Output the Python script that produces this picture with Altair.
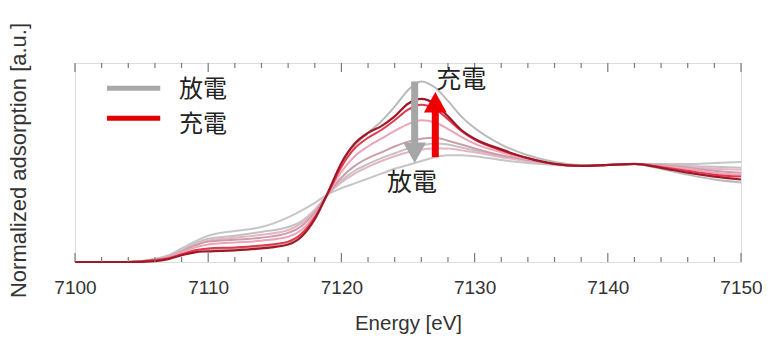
import altair as alt
import pandas as pd

# Energy grid [eV]
energy = [7100, 7104, 7106, 7107, 7108, 7109, 7110, 7112, 7114, 7116, 7117, 7118, 7119,
          7120, 7121, 7122, 7123, 7124, 7125, 7126, 7127, 7128, 7129, 7130, 7132, 7134,
          7136, 7138, 7140, 7142, 7144, 7146, 7148, 7150]

# Normalized absorption curves
g3 = [0.00, 0.00, 0.03, 0.07, 0.14, 0.21, 0.27, 0.32, 0.36, 0.46, 0.53, 0.61, 0.70,
      0.76, 0.81, 0.86, 0.91, 0.96, 1.00, 1.04, 1.08, 1.10, 1.10, 1.09, 1.05, 1.02,
      1.00, 0.99, 1.00, 1.01, 1.01, 1.01, 1.02, 1.03]
g2 = [0.00, 0.00, 0.03, 0.06, 0.12, 0.19, 0.24, 0.27, 0.31, 0.36, 0.42, 0.54, 0.70,
      0.84, 0.94, 1.01, 1.07, 1.12, 1.17, 1.20, 1.22, 1.21, 1.18, 1.15, 1.09, 1.04,
      1.01, 0.99, 1.00, 1.01, 1.00, 0.99, 0.98, 0.97]
g1 = [0.00, 0.00, 0.02, 0.04, 0.08, 0.11, 0.13, 0.14, 0.16, 0.20, 0.28, 0.46, 0.72,
      1.00, 1.20, 1.33, 1.45, 1.60, 1.77, 1.86, 1.80, 1.66, 1.50, 1.38, 1.21, 1.10,
      1.03, 1.00, 1.00, 1.01, 0.96, 0.90, 0.85, 0.82]
p3 = [0.00, 0.00, 0.02, 0.05, 0.11, 0.17, 0.22, 0.25, 0.28, 0.33, 0.40, 0.53, 0.70,
      0.82, 0.91, 0.98, 1.04, 1.09, 1.13, 1.16, 1.17, 1.17, 1.15, 1.13, 1.08, 1.04,
      1.01, 0.99, 1.00, 1.01, 1.00, 0.98, 0.96, 0.95]
p2 = [0.00, 0.00, 0.02, 0.05, 0.11, 0.17, 0.21, 0.23, 0.25, 0.30, 0.37, 0.51, 0.70,
      0.87, 0.99, 1.07, 1.13, 1.19, 1.24, 1.27, 1.28, 1.25, 1.21, 1.17, 1.10, 1.05,
      1.01, 0.99, 1.00, 1.01, 1.00, 0.97, 0.94, 0.92]
p1 = [0.00, 0.00, 0.02, 0.05, 0.10, 0.15, 0.18, 0.20, 0.22, 0.26, 0.33, 0.48, 0.70,
      0.93, 1.09, 1.19, 1.27, 1.35, 1.42, 1.46, 1.44, 1.37, 1.29, 1.22, 1.13, 1.06,
      1.01, 0.99, 1.00, 1.01, 0.99, 0.96, 0.92, 0.90]
r2 = [0.00, 0.00, 0.02, 0.04, 0.08, 0.12, 0.14, 0.15, 0.17, 0.21, 0.29, 0.46, 0.71,
      0.98, 1.17, 1.28, 1.36, 1.46, 1.57, 1.62, 1.58, 1.47, 1.35, 1.26, 1.15, 1.07,
      1.01, 0.99, 1.00, 1.01, 0.98, 0.94, 0.90, 0.88]
r1 = [0.00, 0.00, 0.01, 0.03, 0.07, 0.10, 0.11, 0.12, 0.14, 0.18, 0.26, 0.44, 0.72,
      1.02, 1.22, 1.33, 1.40, 1.50, 1.63, 1.68, 1.63, 1.50, 1.36, 1.27, 1.16, 1.07,
      1.01, 0.99, 1.00, 1.01, 0.97, 0.92, 0.88, 0.85]

curve_names = ["g3", "g2", "g1", "p3", "p2", "p1", "r2", "r1"]
curve_values = [g3, g2, g1, p3, p2, p1, r2, r1]
curve_colors = ["#c6c6c6", "#c2c2c2", "#bababa", "#e6b4c2", "#cc9eaa", "#eca4b8", "#e3384a", "#a01828"]
curve_widths = [2, 2, 2, 2, 2, 2, 2, 2.2]

# Legend
legend_labels = ["放電", "充電"]
legend_colors = ["#a9a9a9", "#e00000"]
legend_x0 = [7102.4, 7102.4]
legend_x1 = [7106.4, 7106.4]
legend_y = [1.79, 1.48]
legend_text_x = [7107.8, 7107.8]
legend_text_y = [1.773, 1.412]

# Arrows
arrow_x = [7125.5, 7127.05]
arrow_start = [1.86, 1.08]
arrow_end = [1.18, 1.58]
arrow_head_y = [1.125, 1.645]
arrow_head_dir = ["down", "up"]
arrow_colors = ["#a6a6a6", "#ee0000"]
arrow_labels = ["放電", "充電"]
arrow_label_x = [7125.3, 7129.0]
arrow_label_y = [0.81, 1.87]

tick_vals = list(range(7100, 7151, 2))

XDOM = [7100, 7150]
YDOM = [0, 2.05]
W, H = 666, 199
xs = alt.Scale(domain=XDOM, nice=False, zero=False)
ys = alt.Scale(domain=YDOM, nice=False)

AX_FONT = "Liberation Sans"
CJK = "Noto Sans CJK JP"
TICK_COLOR = "#7a7a7a"

bottom_axis = alt.Axis(
    orient="bottom", values=[7100, 7110, 7120, 7130, 7140, 7150], format="d",
    ticks=False, domain=False, grid=False,
    labelPadding=16.5, labelFontSize=19, labelFont=AX_FONT, labelColor="#333333",
    title="Energy [eV]", titleFont=AX_FONT, titleFontSize=20.5, titleFontWeight="normal",
    titleColor="#333333", titleY=51, titleBaseline="top", labelFlush=False,
)
left_axis = alt.Axis(
    orient="left", labels=False, ticks=False, domain=False, grid=False,
    title="Normalized adsorption [a.u.]", titleFont=AX_FONT, titleFontSize=22,
    titleFontWeight="normal", titleColor="#333333", titleX=-45, titleY=97,
)

layers = []
for i, (name, vals, col, w) in enumerate(zip(curve_names, curve_values, curve_colors, curve_widths)):
    df = pd.DataFrame({"E": energy, "v": vals})
    layers.append(
        alt.Chart(df).mark_line(color=col, strokeWidth=w, interpolate="monotone").encode(
            x=alt.X("E:Q", scale=xs, axis=bottom_axis if i == 0 else None),
            y=alt.Y("v:Q", scale=ys, axis=left_axis if i == 0 else None),
        )
    )

# Inward ticks on bottom and top frame
ticks_df = pd.DataFrame({"t": tick_vals})
for major, ln in [(True, 9), (False, 5)]:
    cond = "datum.t % 10 == 0" if major else "datum.t % 10 != 0"
    base = alt.Chart(ticks_df).transform_filter(cond).mark_rule(color=TICK_COLOR, strokeWidth=1.2)
    layers.append(base.encode(x=alt.X("t:Q", scale=xs, axis=None), y=alt.value(H), y2=alt.value(H - ln)))
    layers.append(base.encode(x=alt.X("t:Q", scale=xs, axis=None), y=alt.value(0), y2=alt.value(ln)))

# Legend lines and text
leg = pd.DataFrame({"x0": legend_x0, "x1": legend_x1, "y": legend_y, "c": legend_colors,
                    "tx": legend_text_x, "ty": legend_text_y, "lab": legend_labels})
layers.append(
    alt.Chart(leg).mark_rule(strokeWidth=5).encode(
        x=alt.X("x0:Q", scale=xs, axis=None), x2="x1:Q",
        y=alt.Y("y:Q", scale=ys, axis=None),
        color=alt.Color("c:N", scale=None),
    )
)
layers.append(
    alt.Chart(leg).mark_text(align="left", baseline="middle", font=CJK, fontSize=24, color="#222222").encode(
        x=alt.X("tx:Q", scale=xs, axis=None), y=alt.Y("ty:Q", scale=ys, axis=None), text="lab:N",
    )
)

# Arrows
arr = pd.DataFrame({"x": arrow_x, "y0": arrow_start, "y1": arrow_end, "hy": arrow_head_y,
                    "dir": arrow_head_dir, "c": arrow_colors})
layers.append(
    alt.Chart(arr).mark_rule(strokeWidth=7).encode(
        x=alt.X("x:Q", scale=xs, axis=None),
        y=alt.Y("y0:Q", scale=ys, axis=None), y2="y1:Q",
        color=alt.Color("c:N", scale=None),
    )
)
for d, shape in [("down", "M-1,-0.9L1,-0.9L0,0.9Z"), ("up", "M-1,0.9L1,0.9L0,-0.9Z")]:
    layers.append(
        alt.Chart(arr).transform_filter(alt.datum.dir == d).mark_point(
            shape=shape, filled=True, size=520, opacity=1, strokeWidth=0).encode(
            x=alt.X("x:Q", scale=xs, axis=None), y=alt.Y("hy:Q", scale=ys, axis=None),
            color=alt.Color("c:N", scale=None),
        )
    )

lab = pd.DataFrame({"x": arrow_label_x, "y": arrow_label_y, "lab": arrow_labels})
layers.append(
    alt.Chart(lab).mark_text(align="center", baseline="middle", font=CJK, fontSize=25, color="#222222").encode(
        x=alt.X("x:Q", scale=xs, axis=None), y=alt.Y("y:Q", scale=ys, axis=None), text="lab:N",
    )
)

chart = alt.layer(*layers).resolve_axis(x="independent", y="independent").properties(
    width=W, height=H,
    autosize=alt.AutoSizeParams(type="none"),
    padding={"left": 67, "top": 55, "right": 21, "bottom": 77},
).configure_view(stroke="#959595", strokeWidth=1.5).configure(background="white")

chart.save("out.html", embed_options={"renderer": "svg", "actions": False})
